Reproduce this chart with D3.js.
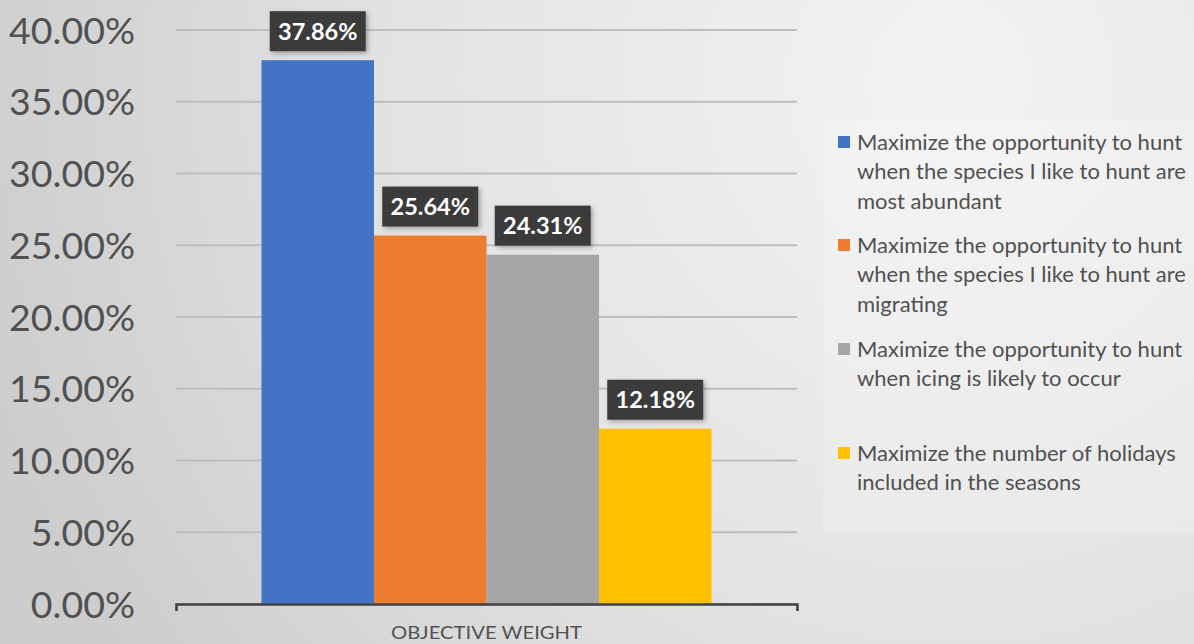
<!DOCTYPE html>
<html>
<head>
<meta charset="utf-8">
<script src="https://cdn.jsdelivr.net/npm/d3@7"></script>
<style>
body { margin: 0; }
svg { display: block; }
</style>
</head>
<body>
<svg width="1194" height="644"></svg>
<script>
var categories = [
    'Maximize the opportunity to hunt when the species I like to hunt are most abundant',
    'Maximize the opportunity to hunt when the species I like to hunt are migrating',
    'Maximize the opportunity to hunt when icing is likely to occur',
    'Maximize the number of holidays included in the seasons'
];
var values = [0.3786, 0.2564, 0.2431, 0.1218];
var colors = ['#4472c4', '#ed7d31', '#a5a5a5', '#ffc000'];
var yTicks = [0, 0.05, 0.10, 0.15, 0.20, 0.25, 0.30, 0.35, 0.40];
var legendLines = [
    ['Maximize the opportunity to hunt', 'when the species I like to hunt are', 'most abundant'],
    ['Maximize the opportunity to hunt', 'when the species I like to hunt are', 'migrating'],
    ['Maximize the opportunity to hunt', 'when icing is likely to occur'],
    ['Maximize the number of holidays', 'included in the seasons']
];
var groupName = 'OBJECTIVE WEIGHT';

var svg = d3.select('svg');
var defs = svg.append('defs');

var bg = defs.append('radialGradient')
    .attr('id', 'bg')
    .attr('gradientUnits', 'userSpaceOnUse')
    .attr('cx', 950).attr('cy', 80).attr('r', 1000);
bg.append('stop').attr('offset', '0').attr('stop-color', '#f3f3f3');
bg.append('stop').attr('offset', '0.55').attr('stop-color', '#e3e3e3');
bg.append('stop').attr('offset', '1').attr('stop-color', '#cdcdcd');

var gridGrad = defs.append('linearGradient')
    .attr('id', 'gridGrad')
    .attr('gradientUnits', 'userSpaceOnUse')
    .attr('x1', 0).attr('y1', 20).attr('x2', 0).attr('y2', 610);
gridGrad.append('stop').attr('offset', '0').attr('stop-color', '#bdbdbd');
gridGrad.append('stop').attr('offset', '1').attr('stop-color', '#7a7a7a');

var shadow = defs.append('filter').attr('id', 'shadow')
    .attr('x', '-20%').attr('y', '-20%').attr('width', '150%').attr('height', '150%');
shadow.append('feDropShadow')
    .attr('dx', 2).attr('dy', 2).attr('stdDeviation', 2.5)
    .attr('flood-color', '#000').attr('flood-opacity', 0.3);

svg.append('rect')
    .attr('width', 1194).attr('height', 644)
    .attr('fill', 'url(#bg)');

// legend panel
svg.append('rect')
    .attr('x', 823).attr('y', 120)
    .attr('width', 371).attr('height', 413)
    .attr('fill', '#ffffff').attr('fill-opacity', 0.2);

var x0 = d3.scaleBand()
    .domain([groupName])
    .range([176, 797])
    .paddingOuter(0.19);

var x1 = d3.scaleBand()
    .domain(categories)
    .range([0, x0.bandwidth()]);

var y = d3.scaleLinear()
    .domain([0, 0.4])
    .range([603.5, 29.5]);

var yAxis = svg.append('g')
    .attr('transform', 'translate(176,0)')
    .call(d3.axisLeft(y)
        .tickValues(yTicks)
        .tickSize(-621)
        .tickPadding(41)
        .tickFormat(d3.format('.2%')));

yAxis.select('.domain').remove();
yAxis.selectAll('.tick line')
    .attr('stroke', 'url(#gridGrad)')
    .attr('stroke-width', 2);
yAxis.selectAll('.tick text')
    .attr('fill', '#505050')
    .attr('font-family', 'Lato, "Open Sans", sans-serif')
    .attr('font-size', 37.5)
    .attr('dy', '0.36em');

var bars = svg.append('g')
    .attr('transform', 'translate(' + x0(groupName) + ',0)');

bars.selectAll('rect')
    .data(values)
    .enter()
    .append('rect')
    .attr('x', function(d, i) { return x1(categories[i]); })
    .attr('y', function(d) { return y(d); })
    .attr('width', x1.bandwidth())
    .attr('height', function(d) { return y(0) - y(d); })
    .attr('fill', function(d, i) { return colors[i]; });

// x axis line with end ticks
svg.append('g')
    .attr('transform', 'translate(0,604)')
    .call(d3.axisBottom(x0).tickValues([]).tickSizeOuter(7))
    .call(function(g) {
        g.select('.domain')
            .attr('stroke', '#404040')
            .attr('stroke-width', 2.6);
    });

svg.append('text')
    .attr('x', x0(groupName) + x0.bandwidth() / 2)
    .attr('y', 639)
    .attr('text-anchor', 'middle')
    .attr('fill', '#505050')
    .attr('font-family', 'Lato, "Open Sans", sans-serif')
    .attr('font-size', 17)
    .attr('textLength', 191)
    .attr('lengthAdjust', 'spacingAndGlyphs')
    .text(groupName);

// data labels
var labels = bars.selectAll('.label')
    .data(values)
    .enter()
    .append('g')
    .attr('class', 'label')
    .attr('transform', function(d, i) {
        return 'translate(' + (x1(categories[i]) + x1.bandwidth() / 2) + ',' + (y(d) - 29) + ')';
    });

labels.append('rect')
    .attr('x', -48).attr('y', -20)
    .attr('width', 96).attr('height', 40)
    .attr('fill', '#3b3b3b')
    .attr('filter', 'url(#shadow)');

labels.append('text')
    .attr('text-anchor', 'middle')
    .attr('dy', '0.36em')
    .attr('fill', '#ffffff')
    .attr('font-family', 'Lato, "Open Sans", sans-serif')
    .attr('font-weight', 'bold')
    .attr('font-size', 23.5)
    .text(function(d) { return d3.format('.2%')(d); });

// legend
var legendY = [142, 245, 349, 453];
var legend = svg.selectAll('.legend')
    .data(legendLines)
    .enter()
    .append('g')
    .attr('class', 'legend')
    .attr('transform', function(d, i) { return 'translate(838,' + legendY[i] + ')'; });

legend.append('rect')
    .attr('x', 0).attr('y', -6)
    .attr('width', 12).attr('height', 12)
    .attr('fill', function(d, i) { return colors[i]; });

legend.append('text')
    .attr('fill', '#505050')
    .attr('font-family', 'Lato, "Open Sans", sans-serif')
    .attr('font-size', 22)
    .selectAll('tspan')
    .data(function(d) { return d; })
    .enter()
    .append('tspan')
    .attr('x', 19)
    .attr('y', function(d, i) { return i * 29.5; })
    .attr('dy', '0.35em')
    .text(function(d) { return d; });
</script>
</body>
</html>
